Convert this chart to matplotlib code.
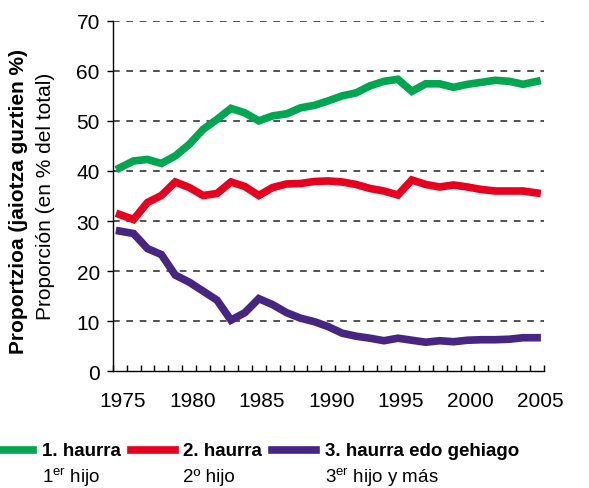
import numpy as np
import matplotlib
matplotlib.use("Agg")
import matplotlib.pyplot as plt
from matplotlib.lines import Line2D
from matplotlib.ticker import MultipleLocator
from matplotlib.transforms import ScaledTranslation

plt.rcParams['font.family'] = ['Liberation Sans', 'DejaVu Sans']
plt.rcParams['mathtext.fontset'] = 'custom'
plt.rcParams['mathtext.rm'] = 'Liberation Sans'
plt.rcParams['mathtext.it'] = 'Liberation Sans:italic'
plt.rcParams['mathtext.bf'] = 'Liberation Sans:bold'

# Datos (% de nacimientos por orden)
years = list(range(1975, 2006))
haur1 = [40.6, 42.0, 42.3, 41.5, 43.0, 45.3, 48.3, 50.3, 52.5, 51.6, 50.0, 51.0, 51.4,
         52.6, 53.1, 54.0, 55.0, 55.6, 57.0, 57.9, 58.3, 55.9, 57.4, 57.4, 56.7, 57.3,
         57.7, 58.1, 57.9, 57.3, 57.9]
haur2 = [31.3, 30.3, 33.7, 35.1, 37.8, 36.7, 35.1, 35.5, 37.8, 36.9, 35.1, 36.7, 37.4,
         37.5, 37.9, 38.0, 37.8, 37.3, 36.5, 36.0, 35.2, 38.2, 37.3, 36.8, 37.2, 36.8,
         36.3, 36.0, 36.0, 36.0, 35.6]
haur3 = [28.0, 27.5, 24.5, 23.3, 19.2, 17.8, 16.0, 14.2, 10.2, 11.7, 14.5, 13.3, 11.7,
         10.6, 9.9, 8.9, 7.6, 7.0, 6.6, 6.1, 6.6, 6.2, 5.8, 6.1, 5.9, 6.2,
         6.3, 6.3, 6.4, 6.7, 6.7]

names_eu = ["1. haurra", "2. haurra", "3. haurra edo gehiago"]
names_es = [r"1$^{\mathrm{er}}$ hijo", "2º hijo", r"3$^{\mathrm{er}}$ hijo y más"]
colors = ["#00A650", "#E8001F", "#472582"]

fig = plt.figure(figsize=(5.89, 4.89), dpi=100)
ax = fig.add_axes([0.1913, 0.2387, 0.7323, 0.7169])

for serie, c in zip([haur1, haur2, haur3], colors):
    ax.plot(years, serie, color=c, lw=5.5, solid_joinstyle='miter', zorder=3)

ax.set_xlim(1974.5, 2005.5)
ax.set_ylim(0, 70)
ax.xaxis.set_major_locator(MultipleLocator(5))
ax.set_xticks(np.arange(1974.5, 2006, 1), minor=True)
ax.yaxis.set_major_locator(MultipleLocator(10))
ax.tick_params(axis='x', which='major', length=0, labelsize=15, pad=14)
ax.tick_params(axis='x', which='minor', direction='in', length=4, width=1)
ax.tick_params(axis='y', length=4.3, width=1, labelsize=15, pad=5)

# las etiquetas del eje x estan un poco desplazadas a la derecha
for lab in ax.get_xticklabels():
    lab.set_transform(lab.get_transform() + ScaledTranslation(3 / 100, 0, fig.dpi_scale_trans))

for y in range(10, 71, 10):
    ax.axhline(y, color='#444444', lw=1.3, ls=(0, (3.7, 3.7)), zorder=1)

ax.spines['top'].set_visible(False)
ax.spines['right'].set_visible(False)
ax.spines['left'].set_linewidth(1)
ax.spines['bottom'].set_linewidth(1)

fig.text(19 / 589, 0.588, "Proportzioa (jaiotza guztien %)", rotation=90,
         ha='center', va='center', fontsize=15, fontweight='bold')
fig.text(46 / 589, 0.598, "Proporción (en % del total)", rotation=90,
         ha='center', va='center', fontsize=15)

# leyenda manual abajo
handle_x = [(0, 33), (131, 175), (272, 316)]
text_x = [42, 183, 325]
for (x0, x1), tx, c, eu, es in zip(handle_x, text_x, colors, names_eu, names_es):
    fig.add_artist(Line2D([x0 / 589, x1 / 589], [1 - 451 / 489] * 2, color=c, lw=5.5,
                          transform=fig.transFigure))
    fig.text(tx / 589, 1 - 452 / 489, eu, ha='left', va='center', fontsize=13.5,
             fontweight='bold')
    fig.text(tx / 589, 1 - 478 / 489, es, ha='left', va='center', fontsize=13.5)

fig.savefig("out.png", dpi=100)
